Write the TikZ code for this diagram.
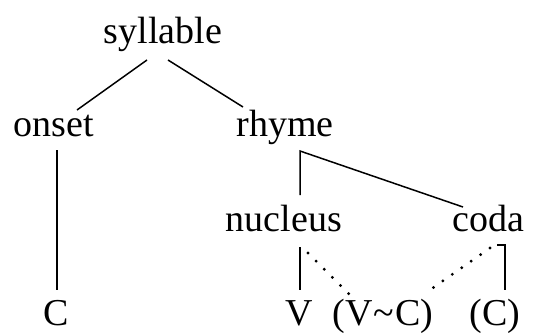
\documentclass[tikz,border=0pt]{standalone}
\usepackage{fontspec}
\setmainfont{Liberation Serif}
\usetikzlibrary{positioning}

\begin{document}
\begin{tikzpicture}[x=1pt, y=-1pt,
    every node/.style={font=\fontsize{38}{40}\selectfont, inner sep=0pt, anchor=base},
    branch/.style={line width=1.5pt},
    assoc/.style={line width=3.2pt, line cap=round, dash pattern=on 0pt off 11.5pt}]
    \useasboundingbox (0,0) rectangle (534,335);

    % tiers
    \node (syllable) at (163,43) {syllable};
    \node (onset) at (54,136) {onset};
    \node (rhyme) at (285,136) {rhyme};
    \node (nucleus) at (284,231) {nucleus};
    \node (coda) at (488,231) {coda};
    \node (onsetC) at (56,325) {C};
    \node (V) at (299,325) {V};
    \node (VC) at (383,325) {(V\kern1pt\textasciitilde\kern1pt C)};
    \node (codaC) at (495,325) {(C)};

    % branches
    \draw[branch] ([shift={(-16,17)}]syllable.base) -- ([shift={(23,-26)}]onset.base);
    \draw[branch] ([shift={(5,17)}]syllable.base) -- ([shift={(-42,-29)}]rhyme.base);
    \draw[branch] ([shift={(3,14)}]onset.base) -- ([shift={(1,-35)}]onsetC.base);
    \draw[branch] ([shift={(16,-36)}]nucleus.base) |- ([shift={(15,15)}]rhyme.base)
        -- ([shift={(-25,-24)}]coda.base);
    \draw[branch] ([shift={(16,16)}]nucleus.base) -- ([shift={(1,-35)}]V.base);
    \draw[branch] ([shift={(9,14)}]coda.base) -- ([shift={(17,14)}]coda.base)
        -- ([shift={(10,-35)}]codaC.base);

    % optional links
    \draw[assoc] ([shift={(24,22)}]nucleus.base) -- ([shift={(-33,-30)}]VC.base);
    \draw[assoc] ([shift={(2,17)}]coda.base) -- ([shift={(44,-33)}]VC.base);
  \end{tikzpicture}
\end{document}
